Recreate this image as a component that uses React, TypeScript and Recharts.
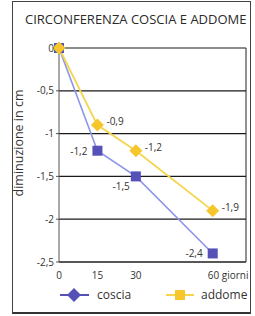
import { LineChart, Line, XAxis, YAxis, CartesianGrid, ReferenceLine, LabelList } from "recharts";

const days = [0, 15, 30, 60];
const coscia = [0, -1.2, -1.5, -2.4];
const addome = [0, -0.9, -1.2, -1.9];
const yTicks = [0, -0.5, -1, -1.5, -2, -2.5];

const data = days.map((d, i) => ({ day: d, coscia: coscia[i], addome: addome[i] }));

const FONT = "'Open Sans', 'Noto Sans', sans-serif";
const TXT = "#333";
const C_LINE = "#8d95e8";
const C_MARK = "#5551b6";
const A_LINE = "#f5d54e";
const A_MARK = "#f7c62c";

const fmt = (v: number) => String(v).replace(".", ",");

const SquareDot = (props: any) => {
  const { cx, cy, index } = props;
  return <rect key={"c" + index} x={cx - 5} y={cy - 5} width={10} height={10} fill={C_MARK} />;
};

const DiamondDot = (props: any) => {
  const { cx, cy, index } = props;
  return (
    <polygon
      key={"a" + index}
      points={`${cx},${cy - 6.5} ${cx + 6.5},${cy} ${cx},${cy + 6.5} ${cx - 6.5},${cy}`}
      fill={A_MARK}
    />
  );
};

// where each value label sits relative to its point
const cosciaLabel = (props: any) => {
  const { x, y, value, index } = props;
  if (value === 0) return null;
  let dx = -10, dy = 4;
  if (index === 2) { dx = -6; dy = 14; }
  return (
    <text x={x + dx} y={y + dy} textAnchor="end" fontSize={10} fill={TXT} fontFamily={FONT}>
      {fmt(value)}
    </text>
  );
};

const addomeLabel = (props: any) => {
  const { x, y, value } = props;
  if (value === 0) return null;
  return (
    <text x={x + 9} y={y} textAnchor="start" fontSize={10} fill={TXT} fontFamily={FONT}>
      {fmt(value)}
    </text>
  );
};

const XTick = (props: any) => {
  const { x, y, payload } = props;
  if (payload.value === 60) {
    return (
      <text x={x - 5} y={y + 9} textAnchor="start" fontSize={10} fill={TXT} fontFamily={FONT}>
        60 giorni
      </text>
    );
  }
  return (
    <text x={x} y={y + 9} textAnchor="middle" fontSize={10} fill={TXT} fontFamily={FONT}>
      {payload.value}
    </text>
  );
};

export default function App() {
  return (
    <div style={{ position: "absolute", left: 0, top: 0, width: 255, height: 316, background: "#fff" }}>
      <div
        style={{
          position: "absolute",
          left: 12,
          top: 1,
          width: 237,
          height: 310,
          borderLeft: "1px solid #444",
          borderTop: "1px solid #444",
          borderRight: "1px solid #444",
          borderBottom: "2px solid #333",
        }}
      />
      <div
        style={{
          position: "absolute",
          left: 25,
          top: 10,
          fontFamily: FONT,
          fontSize: 13,
          fontWeight: 500,
          color: "#2a2a2a",
          whiteSpace: "nowrap",
        }}
      >
        CIRCONFERENZA COSCIA E ADDOME
      </div>
      <LineChart width={255} height={316} data={data} margin={{ top: 48, right: 9, bottom: 24, left: 0 }}>
        <CartesianGrid horizontal vertical={false} stroke="#1a1a1a" strokeWidth={1.2} />
        <XAxis
          dataKey="day"
          type="number"
          domain={[0, 73]}
          ticks={days}
          tick={<XTick />}
          tickLine={false}
          axisLine={{ stroke: "#222" }}
          height={30}
        />
        <YAxis
          type="number"
          domain={[-2.5, 0]}
          ticks={yTicks}
          tickFormatter={fmt}
          width={59}
          tick={{ fontSize: 10, fill: TXT, fontFamily: FONT }}
          tickSize={3}
          tickLine={{ stroke: "#555" }}
          axisLine={{ stroke: "#555" }}
          label={{
            content: () => (
              <text
                x={23}
                y={143}
                transform="rotate(-90 23 143)"
                textAnchor="middle"
                fontSize={12.5}
                fill={TXT}
                fontFamily={FONT}
              >
                diminuzione in cm
              </text>
            ),
          }}
        />
        <ReferenceLine x={73} stroke="#222" />
        <Line
          dataKey="coscia"
          stroke={C_LINE}
          strokeWidth={1.6}
          dot={SquareDot}
          isAnimationActive={false}
        >
          <LabelList dataKey="coscia" content={cosciaLabel} />
        </Line>
        <Line
          dataKey="addome"
          stroke={A_LINE}
          strokeWidth={1.8}
          dot={DiamondDot}
          isAnimationActive={false}
        >
          <LabelList dataKey="addome" content={addomeLabel} />
        </Line>
      </LineChart>
      <svg style={{ position: "absolute", left: 0, top: 284 }} width={255} height={24}>
        <line x1={60} y1={11} x2={89} y2={11} stroke={C_MARK} strokeWidth={2} />
        <polygon points="74,4 81,11 74,18 67,11" fill={C_MARK} />
        <text x={97} y={15} fontSize={12} fill={TXT} fontFamily={FONT}>coscia</text>
        <line x1={166} y1={11} x2={194} y2={11} stroke={A_LINE} strokeWidth={2} />
        <rect x={175} y={6} width={10} height={10} fill={A_MARK} />
        <text x={201} y={15} fontSize={12} fill={TXT} fontFamily={FONT}>addome</text>
      </svg>
    </div>
  );
}
